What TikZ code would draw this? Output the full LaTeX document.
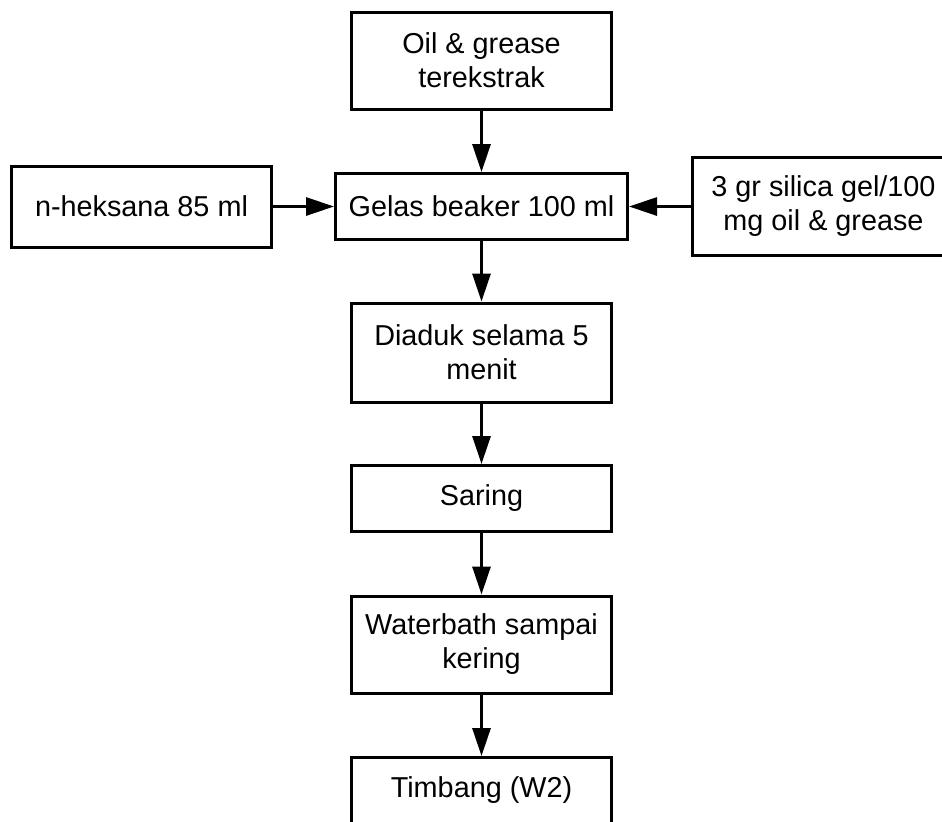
\documentclass[tikz,border=0pt]{standalone}
\usepackage{fontspec}
\setmainfont{Liberation Sans}
\usetikzlibrary{arrows.meta, positioning, shapes}

\begin{document}
\begin{tikzpicture}[node distance=73pt]
    \tikzstyle{block} = [rectangle, draw, line width=1.5pt, align=center, minimum width=130pt, minimum height=33pt, inner sep=2pt, font=\fontsize{14.4}{17}\selectfont]
    \tikzstyle{line} = [draw, line width=1.5pt, -{Triangle[length=14pt, width=9pt]}]

    \useasboundingbox (0,0) rectangle (471pt,-410.5pt);

    % langkah utama
    \node[block, minimum height=48.5pt] (oil) at (240.75pt,-30.25pt) {Oil \& grease\\terekstrak};
    \node[block, below of=oil, minimum width=146pt] (gelas) {Gelas beaker 100 ml};
    \node[block, left of=gelas, xshift=-97pt, minimum height=40.5pt] (heksana) {n-heksana 85 ml};
    \node[block, right of=gelas, xshift=98pt, minimum width=131pt, minimum height=49pt] (silica) {3 gr silica gel/100\\mg oil \& grease};
    \node[block, below of=gelas, minimum height=49.5pt] (aduk) {Diaduk selama 5\\menit};
    \node[block, below of=aduk] (saring) {Saring};
    \node[block, below of=saring, minimum height=48.5pt] (waterbath) {Waterbath sampai\\kering};
    \node[block, below of=waterbath] (timbang) {Timbang (W2)};

    % panah
    \path [line] (oil) -- (gelas);
    \path [line] (heksana) -- (gelas);
    \path [line] (silica) -- (gelas);
    \path [line] (gelas) -- (aduk);
    \path [line] (aduk) -- (saring);
    \path [line] (saring) -- (waterbath);
    \path [line] (waterbath) -- (timbang);
\end{tikzpicture}
\end{document}
